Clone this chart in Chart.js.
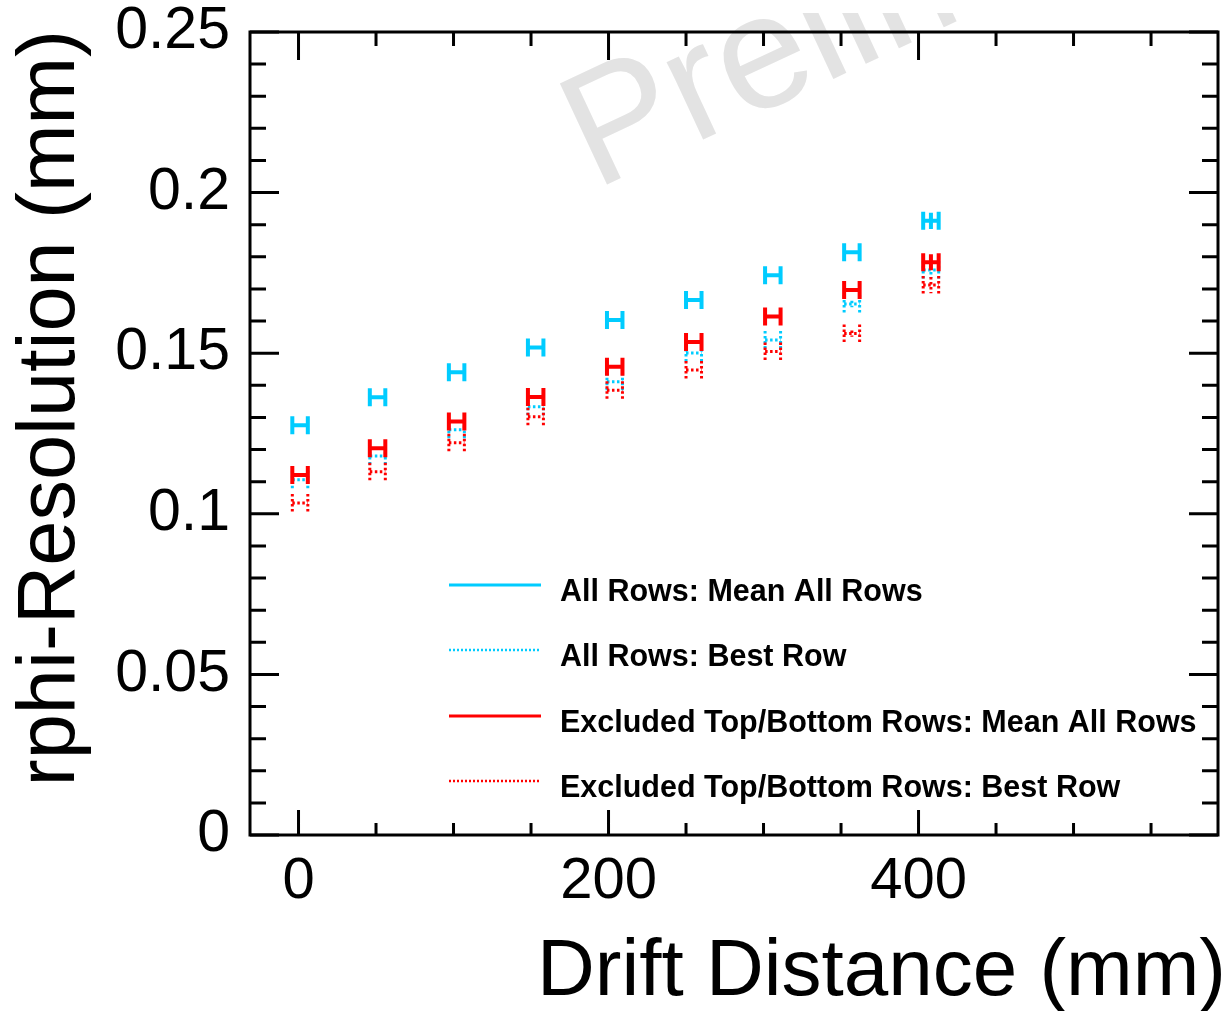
<!DOCTYPE html>
<html>
<head>
<meta charset="utf-8">
<title>rphi-Resolution vs Drift Distance</title>
<script src="https://cdn.jsdelivr.net/npm/chart.js@4.4.1/dist/chart.umd.min.js"></script>
<style>
  html, body { margin: 0; padding: 0; background: #ffffff; }
  canvas { display: block; }
</style>
</head>
<body>
<canvas id="res" width="1231" height="1011" style="width:1231px;height:1011px"></canvas>
<script>
// Drift distance of each measurement point (mm) and its half bin width
const driftDistance = [1, 51, 102, 153, 204, 255, 306, 357, 408];
const driftHalfWidth = [5, 5, 5, 5, 5, 5, 5, 5, 5];

// Resolution (mm)
const allRowsMean      = [0.1276, 0.1363, 0.1441, 0.1518, 0.1603, 0.1666, 0.1743, 0.1814, 0.1912];
const allRowsBest      = [0.1106, 0.1180, 0.1262, 0.1333, 0.1411, 0.1501, 0.1541, 0.1653, 0.1759];
const exclRowsMean     = [0.1121, 0.1204, 0.1287, 0.1364, 0.1458, 0.1535, 0.1614, 0.1697, 0.1783];
const exclRowsBest     = [0.1034, 0.1131, 0.1221, 0.1302, 0.1385, 0.1448, 0.1505, 0.1561, 0.1712];

// Resolution uncertainties (mm)
const allRowsMeanErr   = [0.0005, 0.0005, 0.0005, 0.0005, 0.0006, 0.0006, 0.0007, 0.0008, 0.0025];
const allRowsBestErr   = [0.0006, 0.0006, 0.0006, 0.0007, 0.0007, 0.0008, 0.0009, 0.0010, 0.0025];
const exclRowsMeanErr  = [0.0005, 0.0005, 0.0005, 0.0005, 0.0006, 0.0006, 0.0007, 0.0008, 0.0025];
const exclRowsBestErr  = [0.0006, 0.0006, 0.0006, 0.0007, 0.0007, 0.0008, 0.0009, 0.0010, 0.0025];

const seriesLabels = [
  'All Rows: Mean All Rows',
  'All Rows: Best Row',
  'Excluded Top/Bottom Rows: Mean All Rows',
  'Excluded Top/Bottom Rows: Best Row'
];

// Axis ticks
const xTickValues = [0, 200, 400];
const xTickLabels = ['0', '200', '400'];
const yTickValues = [0, 0.05, 0.1, 0.15, 0.2, 0.25];
const yTickLabels = ['0', '0.05', '0.1', '0.15', '0.2', '0.25'];

const xTitle = 'Drift Distance (mm)';
const yTitle = 'rphi-Resolution (mm)';
const watermark = 'Preliminary';

const FONT = "'Liberation Sans', Arial, Helvetica, sans-serif";
const CYAN = '#00ccff';
const RED = '#ff0000';
const DOT = [2.5, 2.5];

const styles = [
  { color: CYAN, dash: [], width: 4 },
  { color: CYAN, dash: DOT, width: 3 },
  { color: RED, dash: [], width: 4 },
  { color: RED, dash: DOT, width: 3 }
];
const values = [allRowsMean, allRowsBest, exclRowsMean, exclRowsBest];
const errors = [allRowsMeanErr, allRowsBestErr, exclRowsMeanErr, exclRowsBestErr];

const datasets = values.map((vals, k) => ({
  label: seriesLabels[k],
  data: driftDistance.map((x, i) => ({ x: x, y: vals[i] })),
  xErr: driftHalfWidth,
  yErr: errors[k],
  borderColor: styles[k].color,
  borderDash: styles[k].dash,
  borderWidth: styles[k].width,
  pointRadius: 0,
  showLine: false
}));

// Light grey "Preliminary" stamp behind the data
const watermarkPlugin = {
  id: 'watermark',
  beforeDatasetsDraw(chart) {
    const ctx = chart.ctx;
    ctx.save();
    ctx.beginPath();
    ctx.rect(0, 13, chart.width, chart.height - 13);
    ctx.clip();
    ctx.translate(595, 190);
    ctx.rotate(-25 * Math.PI / 180);
    ctx.fillStyle = '#e3e3e3';
    ctx.font = '162px ' + FONT;
    ctx.textAlign = 'left';
    ctx.textBaseline = 'alphabetic';
    ctx.fillText(watermark, 0, 0);
    ctx.restore();
  }
};

// Error bars with end caps (H markers)
const CAP = 18;
const errorBarPlugin = {
  id: 'errorBars',
  afterDatasetsDraw(chart) {
    const ctx = chart.ctx;
    const xs = chart.scales.x, ys = chart.scales.y;
    chart.data.datasets.forEach(ds => {
      ctx.save();
      ctx.strokeStyle = ds.borderColor;
      ctx.lineWidth = ds.borderWidth;
      ctx.setLineDash(ds.borderDash);
      ctx.lineCap = 'butt';
      ds.data.forEach((p, i) => {
        const px = xs.getPixelForValue(p.x);
        const py = ys.getPixelForValue(p.y);
        const xl = xs.getPixelForValue(p.x - ds.xErr[i]);
        const xr = xs.getPixelForValue(p.x + ds.xErr[i]);
        const yt = ys.getPixelForValue(p.y + ds.yErr[i]);
        const yb = ys.getPixelForValue(p.y - ds.yErr[i]);
        ctx.beginPath();
        ctx.moveTo(xl, py); ctx.lineTo(xr, py);
        ctx.moveTo(xl, py - CAP / 2); ctx.lineTo(xl, py + CAP / 2);
        ctx.moveTo(xr, py - CAP / 2); ctx.lineTo(xr, py + CAP / 2);
        if (yb - yt > 6) { ctx.moveTo(px, yt); ctx.lineTo(px, yb); }
        ctx.stroke();
      });
      ctx.restore();
    });
  }
};

// Frame with inward ticks on all four sides, legend and axis titles
const framePlugin = {
  id: 'frame',
  afterDraw(chart) {
    const ctx = chart.ctx;
    const a = chart.chartArea;
    const xs = chart.scales.x, ys = chart.scales.y;
    ctx.save();
    ctx.strokeStyle = '#000';
    ctx.lineWidth = 3;
    ctx.lineCap = 'butt';
    ctx.beginPath();
    // x ticks every 50 mm, major every 200 mm
    for (let v = 0; v <= xs.max; v += 50) {
      const px = xs.getPixelForValue(v);
      const major = v % 200 === 0;
      const lb = major ? 25 : 12;
      const lt = major ? 28 : 14;
      ctx.moveTo(px, a.bottom); ctx.lineTo(px, a.bottom - lb);
      ctx.moveTo(px, a.top); ctx.lineTo(px, a.top + lt);
    }
    // y ticks every 0.01 mm, major every 0.05 mm
    for (let k = 0; k <= 25; k++) {
      const py = ys.getPixelForValue(k / 100);
      const len = k % 5 === 0 ? 29 : 16;
      ctx.moveTo(a.left, py); ctx.lineTo(a.left + len, py);
      ctx.moveTo(a.right, py); ctx.lineTo(a.right - len, py);
    }
    ctx.stroke();
    ctx.strokeRect(a.left, a.top, a.right - a.left, a.bottom - a.top);
    ctx.restore();

    // Legend
    const rows = [585, 650, 716, 781];
    ctx.save();
    chart.data.datasets.forEach((ds, k) => {
      ctx.strokeStyle = ds.borderColor;
      ctx.lineWidth = ds.borderDash.length ? 2.5 : 3;
      ctx.setLineDash(ds.borderDash.length ? [2, 2] : []);
      ctx.beginPath();
      ctx.moveTo(449, rows[k]); ctx.lineTo(541, rows[k]);
      ctx.stroke();
      ctx.fillStyle = '#000';
      ctx.font = 'bold 30.5px ' + FONT;
      ctx.textAlign = 'left';
      ctx.textBaseline = 'alphabetic';
      ctx.fillText(ds.label, 560, rows[k] + 16);
    });
    ctx.restore();

    // Axis titles
    ctx.save();
    ctx.fillStyle = '#000';
    ctx.textBaseline = 'alphabetic';
    ctx.textAlign = 'right';
    ctx.font = '80px ' + FONT;
    ctx.fillText(xTitle, 1226, 995);
    ctx.font = '81px ' + FONT;
    ctx.translate(74, 30);
    ctx.rotate(-Math.PI / 2);
    ctx.fillText(yTitle, 0, 0);
    ctx.restore();
  }
};

new Chart(document.getElementById('res'), {
  type: 'scatter',
  data: { datasets: datasets },
  plugins: [watermarkPlugin, errorBarPlugin, framePlugin],
  options: {
    responsive: false,
    animation: false,
    devicePixelRatio: 1,
    layout: { padding: { top: 32, right: 13, bottom: 0, left: 0 } },
    plugins: { legend: { display: false }, tooltip: { enabled: false } },
    scales: {
      x: {
        type: 'linear',
        min: -31.3,
        max: 593.2,
        afterBuildTicks: s => { s.ticks = xTickValues.map(v => ({ value: v })); },
        afterFit: s => { s.height = 176; s.paddingLeft = 0; s.paddingRight = 0; },
        grid: { display: false, drawTicks: false },
        border: { display: false },
        ticks: {
          autoSkip: false,
          maxRotation: 0,
          padding: 18,
          color: '#000',
          font: { family: FONT, size: 58, lineHeight: 1 },
          callback: (v, i) => xTickLabels[i]
        }
      },
      y: {
        type: 'linear',
        min: 0,
        max: 0.25,
        afterBuildTicks: s => { s.ticks = yTickValues.map(v => ({ value: v })); },
        afterFit: s => { s.width = 250; s.paddingTop = 0; s.paddingBottom = 0; },
        grid: { display: false, drawTicks: false },
        border: { display: false },
        ticks: {
          autoSkip: false,
          padding: 20,
          color: '#000',
          font: { family: FONT, size: 59, lineHeight: 1 },
          callback: (v, i) => yTickLabels[i]
        }
      }
    }
  }
});
</script>
</body>
</html>
